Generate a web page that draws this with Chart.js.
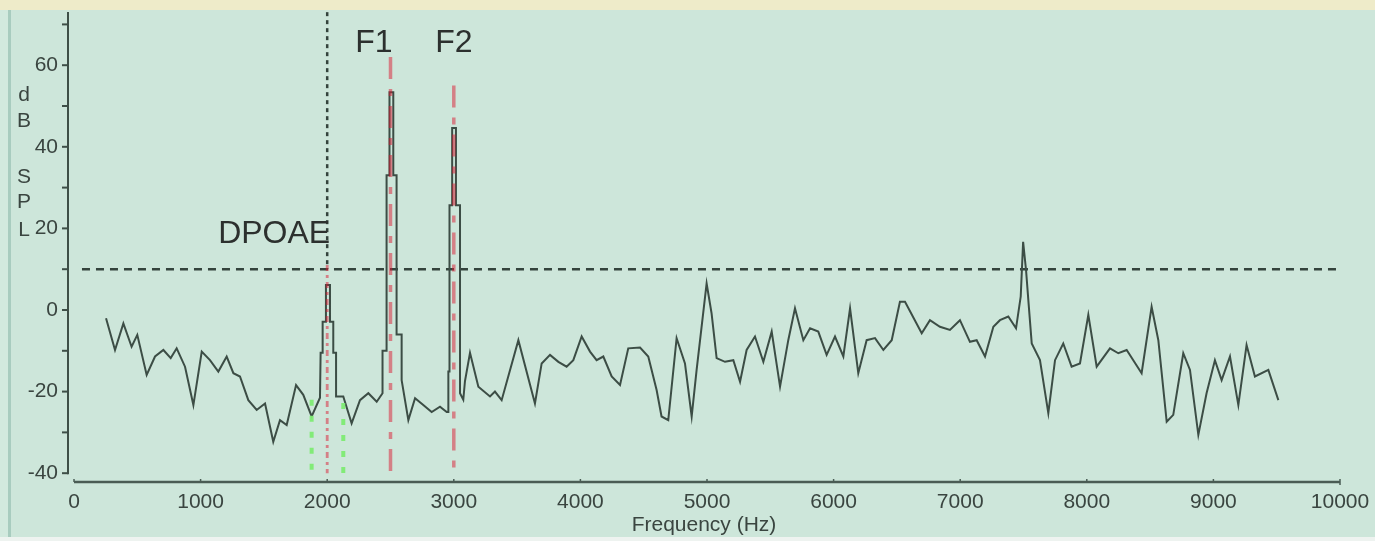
<!DOCTYPE html>
<html><head><meta charset="utf-8">
<script src="https://cdn.jsdelivr.net/npm/chart.js@4.4.1/dist/chart.umd.min.js"></script>
<style>
html,body{margin:0;padding:0;background:#cde6da;overflow:hidden}
#wrap{position:relative;width:1375px;height:541px}
</style></head>
<body><div id="wrap"><canvas id="c"></canvas></div>
<script>
// ---- data ----
const freqHz = [253,324,390,455,500,574,640,706,764,811,877,943,1009,1074,1140,1206,1259,1311,1377,1443,1509,1574,1627,1680,1754,1811,1877,1943,
  1948,1964,1964,1990,1990,2022,2022,2048,2048,2070,2070,2127,2193,2259,2325,2391,2437,
  2437,2469,2469,2492,2492,2522,2522,2548,2548,2588,2588,2641,2694,2759,2825,2891,2944,
  2957,2957,2966,2966,2987,2987,3017,3017,3049,3049,3075,3088,3128,3194,3286,3325,3378,3510,3641,3694,3760,3826,3891,3944,
  4010,4076,4128,4181,4247,4313,4378,4471,4536,4602,4641,4694,4760,4826,4879,4918,4997,5036,5076,5142,5208,5261,5313,5379,5445,5511,5577,5642,5695,5761,5814,5879,5945,
  6011,6077,6130,6195,6261,6327,6393,6459,6524,6564,6696,6761,6840,6919,6998,7077,7130,7196,7262,7314,7380,7441,7478,7497,7520,7540,7565,7630,7696,7749,7814,7880,7946,
  8012,8078,8183,8249,8315,8433,8512,8565,8631,8683,8762,8815,8881,8946,9012,9065,9131,9197,9262,9328,9434,9513];
const levelDb = [-2.0,-9.8,-3.3,-9.0,-6.1,-15.9,-11.4,-9.8,-11.8,-9.4,-13.9,-23.3,-10.2,-12.3,-15.1,-11.4,-15.5,-16.3,-22.1,-24.5,-22.9,-32.3,-27.0,-28.2,-18.4,-20.8,-26.1,-21.5,
  -10.5,-10.5,-2.9,-2.9,6.1,6.1,-2.9,-2.9,-10.5,-10.5,-21.2,-21.2,-27.8,-22.1,-20.4,-22.5,-20.4,
  -10,-10,33,33,53.4,53.4,33,33,-6,-6,-17.2,-27,-21.6,-23.3,-25,-23.7,-25,
  -25,-15.1,-15.1,25.7,25.7,44.6,44.6,25.7,25.7,-20.4,-22,-17.5,-10.5,-18.8,-21.2,-20,-22.1,-7.4,-22.9,-13.1,-11,-12.7,-13.9,-12.3,
  -6.5,-10.2,-12.3,-11.4,-16.3,-18.4,-9.4,-9.2,-11.4,-19.6,-26.1,-27,-6.9,-13.1,-26.1,-14.7,6.5,-0.8,-11.8,-12.7,-12.3,-17.6,-9.8,-6.5,-12.7,-5.3,-18.8,-7.4,0.4,-7.4,-4.5,-5.3,-11,
  -6.5,-11.4,0.4,-15.5,-7.4,-6.9,-9.8,-7.4,2.0,2.0,-5.7,-2.5,-4.1,-4.9,-2.5,-7.8,-7.4,-11.4,-4.1,-2.5,-1.6,-4.5,3.3,16.7,9.8,1.7,-8.2,-12.3,-25.3,-12.3,-8.2,-13.9,-13.1,
  -1.2,-13.9,-9.4,-10.6,-9.8,-15.5,0.8,-7.4,-27.4,-25.7,-10.6,-14.7,-30.6,-20.4,-12.3,-17.2,-11.4,-23.3,-8.6,-16.3,-14.7,-22.1];
const xTickValues = [0,1000,2000,3000,4000,5000,6000,7000,8000,9000,10000];
const yTickValues = [-40,-30,-20,-10,0,10,20,30,40,50,60,70];
const yLabelValues = [-40,-20,0,20,40,60];
const thresholdDb = 10;
const thresholdRange = [63, 10000];
const toneFreqs = [2000, 2500, 3000];
const toneTopDb = [11, 62, 55];
const toneLabels = ['DPOAE', 'F1', 'F2'];
const noiseFreqs = [1877, 2127];
const noiseTopDb = [-22, -22.8];
const bottomDb = -40;
const xTitle = 'Frequency (Hz)';
const yTitleLetters = ['d','B','S','P','L'];

// ---- build datasets ----
const spectrum = freqHz.map((f,i)=>({x:f,y:levelDb[i]}));
const FONT = 'Liberation Sans, Arial, sans-serif';
const datasets = [];
toneFreqs.forEach((f,i)=>{
  datasets.push({data:[{x:f,y:toneTopDb[i]},{x:f,y:bottomDb}], showLine:true, pointRadius:0,
    borderColor:'rgba(220,25,50,0.5)', borderWidth: i===0?2.8:3.5, borderDash: i===0?[6,4,3,4]:[22,10,7,10], order:0});
});
noiseFreqs.forEach((f,i)=>{
  datasets.push({data:[{x:f,y:noiseTopDb[i]},{x:f,y:bottomDb}], showLine:true, pointRadius:0,
    borderColor:'rgba(125,235,115,0.95)', borderWidth:4, borderDash:[6,10], order:1});
});
datasets.push({data:spectrum, showLine:true, pointRadius:0, borderColor:'#3c4d45', borderWidth:2, tension:0, order:2});
datasets.push({data:[{x:thresholdRange[0],y:thresholdDb},{x:thresholdRange[1],y:thresholdDb}], showLine:true, pointRadius:0,
  borderColor:'#34433c', borderWidth:2.5, borderDash:[8,6], order:3});
datasets.push({data:[{x:toneFreqs[0],y:73},{x:toneFreqs[0],y:thresholdDb}], showLine:true, pointRadius:0,
  borderColor:'#34433c', borderWidth:2.5, borderDash:[4,4], order:3});

const bgPlugin = {
  id:'bg',
  beforeDraw(chart){
    const c = chart.ctx, W = chart.width, H = chart.height;
    c.save();
    c.fillStyle = '#cde6da'; c.fillRect(0,0,W,H);
    c.fillStyle = '#eeebc9'; c.fillRect(0,0,W,10);
    c.fillStyle = '#d2e9de'; c.fillRect(0,10,8,H-10);
    c.fillStyle = '#a8ccbf'; c.fillRect(8,10,3,H-10);
    c.fillStyle = '#eef3f0'; c.fillRect(0,537,W,4);
    c.restore();
  }
};
const decoPlugin = {
  id:'deco',
  afterDraw(chart){
    const c = chart.ctx, xs = chart.scales.x, ys = chart.scales.y, a = chart.chartArea;
    c.save();
    // y axis line and ticks
    c.strokeStyle = '#3e4f47'; c.lineWidth = 2;
    const yb = ys.getPixelForValue(bottomDb);
    c.beginPath(); c.moveTo(a.left, a.top); c.lineTo(a.left, yb+1); c.stroke();
    yTickValues.forEach(v=>{ const p = ys.getPixelForValue(v); c.beginPath(); c.moveTo(a.left-6,p); c.lineTo(a.left,p); c.stroke(); });
    // x axis line and ticks
    c.strokeStyle = '#4a5c54'; c.lineWidth = 2.5;
    const x0 = xs.getPixelForValue(xTickValues[0]), x1 = xs.getPixelForValue(xTickValues[xTickValues.length-1]);
    c.beginPath(); c.moveTo(x0, a.bottom); c.lineTo(x1, a.bottom); c.stroke();
    c.lineWidth = 1.5;
    xTickValues.forEach(v=>{ const p = xs.getPixelForValue(v); c.beginPath(); c.moveTo(p,a.bottom-3); c.lineTo(p,a.bottom); c.stroke(); });
    c.beginPath(); c.moveTo(x1,a.bottom); c.lineTo(x1,a.bottom+3); c.stroke();
    // y title letters
    c.fillStyle = '#3a4540'; c.font = '21px ' + FONT; c.textAlign='center'; c.textBaseline='middle';
    const letterDb = [52.7, 46.3, 32.6, 26.5, 19.6];
    yTitleLetters.forEach((t,i)=> c.fillText(t, 24, ys.getPixelForValue(letterDb[i])));
    // annotations
    c.fillStyle = '#2c302e'; c.font = '32px ' + FONT; c.textBaseline='alphabetic';
    c.textAlign='right'; c.fillText(toneLabels[0], xs.getPixelForValue(toneFreqs[0])+3, ys.getPixelForValue(16.4));
    c.textAlign='right'; c.fillText(toneLabels[1], xs.getPixelForValue(toneFreqs[1])+2, ys.getPixelForValue(63.2));
    c.textAlign='center'; c.fillText(toneLabels[2], xs.getPixelForValue(toneFreqs[2]), ys.getPixelForValue(63.2));
    c.restore();
  }
};

new Chart(document.getElementById('c'), {
  type:'scatter',
  data:{datasets},
  options:{
    responsive:true, maintainAspectRatio:false, animation:false,
    layout:{padding:{left:0,right:35,top:12,bottom:0}},
    plugins:{legend:{display:false}, tooltip:{enabled:false}},
    scales:{
      x:{type:'linear', min:-47.4, max:10000,
        afterBuildTicks:s=>{ s.ticks = xTickValues.map(v=>({value:v})); },
        afterFit:s=>{ s.height = 59; s.paddingLeft = 0; s.paddingRight = 0; },
        grid:{display:false, drawTicks:false}, border:{display:false},
        ticks:{padding:8, maxRotation:0, autoSkip:false, color:'#3a4540', font:{family:FONT,size:21}, callback:v=>String(v)},
        title:{display:true, text:xTitle, color:'#3a4540', font:{family:FONT,size:21}, padding:{top:0,bottom:3}}
      },
      y:{type:'linear', min:-42.16, max:73.04,
        afterBuildTicks:s=>{ s.ticks = yLabelValues.map(v=>({value:v})); },
        afterFit:s=>{ s.width = 68; s.paddingTop = 0; s.paddingBottom = 0; },
        grid:{display:false, drawTicks:false}, border:{display:false},
        ticks:{padding:10, autoSkip:false, color:'#3a4540', font:{family:FONT,size:21}, callback:v=>String(v)}
      }
    }
  },
  plugins:[bgPlugin, decoPlugin]
});
</script>
</body></html>
